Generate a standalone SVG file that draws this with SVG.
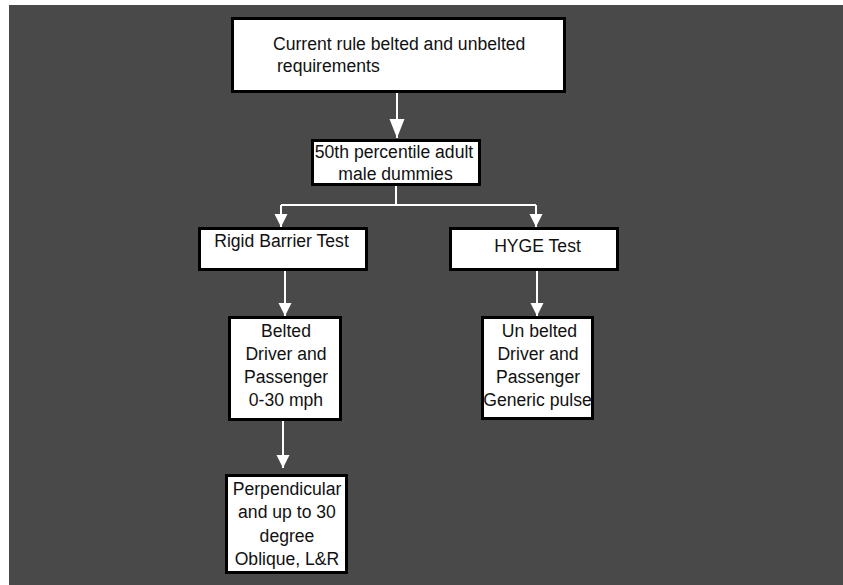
<svg xmlns="http://www.w3.org/2000/svg" width="843" height="585" viewBox="0 0 843 585">
  <style>
    .box { fill: #ffffff; stroke: #000000; stroke-width: 3; }
    .t { font-family: "Liberation Sans", Arial, sans-serif; font-size: 17.6px; fill: #111111; }
    .c { text-anchor: middle; }
    .ln { fill: none; stroke: #ffffff; stroke-width: 2; }
  </style>
  <defs>
    <marker id="ah" markerUnits="userSpaceOnUse" markerWidth="14" markerHeight="14" refX="13" refY="7" orient="auto">
      <path d="M0,0.5 L13,7 L0,13.5 z" fill="#ffffff"/>
    </marker>
    <marker id="ahBig" markerUnits="userSpaceOnUse" markerWidth="20" markerHeight="16" refX="19" refY="8" orient="auto">
      <path d="M0,0.5 L19,8 L0,15.5 z" fill="#ffffff"/>
    </marker>
  </defs>
  <rect x="0" y="0" width="843" height="585" fill="#ffffff"/>
  <rect x="9" y="5" width="834" height="580" fill="#494949"/>

  <g id="connectors">
    <path class="ln" d="M397,92 V138" marker-end="url(#ahBig)"/>
    <path class="ln" d="M396,185 V205 M281,205 H536"/>
    <path class="ln" d="M281,205 V227" marker-end="url(#ah)"/>
    <path class="ln" d="M536,205 V227" marker-end="url(#ah)"/>
    <path class="ln" d="M285,270 V316" marker-end="url(#ah)"/>
    <path class="ln" d="M537,270 V316" marker-end="url(#ah)"/>
    <path class="ln" d="M283,420 V468" marker-end="url(#ah)"/>
  </g>

  <g id="node-current-rule">
    <rect class="box" x="232.5" y="18.5" width="332" height="73"/>
    <text class="t" x="273" y="50">Current rule belted and unbelted</text>
    <text class="t" x="277" y="72">requirements</text>
  </g>

  <g id="node-50th-percentile">
    <rect class="box" x="312.5" y="140.5" width="167" height="44"/>
    <text class="t c" x="394" y="158">50th percentile adult</text>
    <text class="t c" x="395.5" y="180">male dummies</text>
  </g>

  <g id="node-rigid-barrier">
    <rect class="box" x="199.5" y="228.5" width="167" height="41"/>
    <text class="t c" x="281.5" y="247">Rigid Barrier Test</text>
  </g>

  <g id="node-hyge">
    <rect class="box" x="450.5" y="228.5" width="167" height="41"/>
    <text class="t c" x="537.5" y="252">HYGE Test</text>
  </g>

  <g id="node-belted">
    <rect class="box" x="229.5" y="317.5" width="111" height="102"/>
    <text class="t c" x="286" y="337">Belted</text>
    <text class="t c" x="286" y="360">Driver and</text>
    <text class="t c" x="286" y="383">Passenger</text>
    <text class="t c" x="286" y="406">0-30 mph</text>
  </g>

  <g id="node-unbelted">
    <rect class="box" x="482.5" y="317.5" width="110" height="101"/>
    <text class="t c" x="539.5" y="337">Un belted</text>
    <text class="t c" x="538" y="360">Driver and</text>
    <text class="t c" x="538" y="383">Passenger</text>
    <text class="t c" x="537.5" y="406">Generic pulse</text>
  </g>

  <g id="node-perpendicular">
    <rect class="box" x="226.5" y="475.5" width="120" height="97"/>
    <text class="t c" x="287" y="495">Perpendicular</text>
    <text class="t c" x="287" y="518">and up to 30</text>
    <text class="t c" x="287" y="542">degree</text>
    <text class="t c" x="287" y="565">Oblique, L&amp;R</text>
  </g>
</svg>
